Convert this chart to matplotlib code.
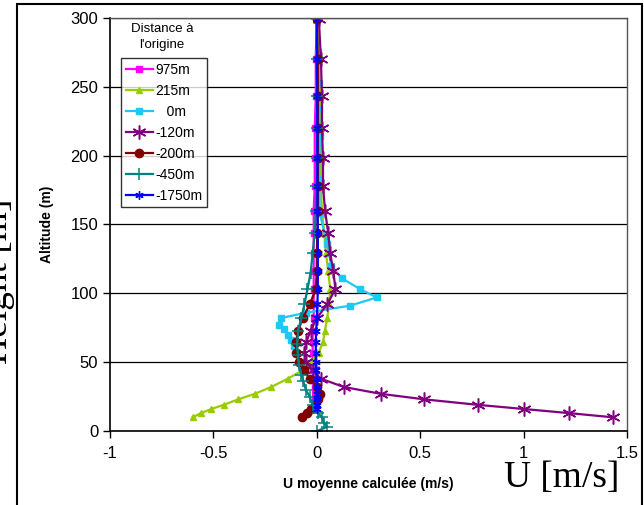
import matplotlib
matplotlib.use("Agg")
import matplotlib.pyplot as plt
from matplotlib.patches import Rectangle

# --- data ---
alt = [10, 13, 16, 19, 23, 27, 32, 38, 44, 50, 57, 65, 73, 82, 92, 103,
       116, 129, 144, 160, 178, 198, 220, 243, 270, 299]

u_975 = [-0.01, -0.01, -0.01, -0.01, -0.01, -0.015, -0.02, -0.02, -0.02,
         -0.02, -0.02, -0.015, -0.015, -0.015, -0.015, -0.015, -0.015,
         -0.015, -0.01, -0.01, -0.01, -0.005, -0.005, 0.0]
alt_975 = alt[2:]

u_215 = [-0.60, -0.56, -0.51, -0.45, -0.38, -0.30, -0.22, -0.14, -0.07, -0.03,
         0.01, 0.03, 0.04, 0.05, 0.06, 0.065, 0.055, 0.045, 0.035, 0.025,
         0.02, 0.02, 0.02, 0.015, 0.01, 0.0]

alt_0 = [62, 66, 70, 74, 77, 82, 86, 91, 97, 103, 111, 120, 136, 158, 183,
         214, 234, 253, 275, 299]
u_0 = [-0.11, -0.125, -0.14, -0.16, -0.185, -0.175, -0.05, 0.16, 0.29, 0.21,
       0.12, 0.07, 0.05, 0.015, 0.01, 0.015, 0.01, 0.01, 0.005, 0.0]

u_m120 = [1.43, 1.22, 1.00, 0.78, 0.52, 0.31, 0.13, 0.02, -0.02, -0.05,
          -0.06, -0.05, -0.03, 0.0, 0.05, 0.09, 0.08, 0.065, 0.055, 0.04,
          0.03, 0.03, 0.025, 0.025, 0.02, 0.01]

u_m200 = [-0.07, -0.045, -0.03, -0.01, 0.005, 0.015, 0.0, -0.035, -0.063,
          -0.087, -0.1, -0.1, -0.09, -0.068, -0.034, -0.005, 0.0, 0.0, 0.003,
          0.005, 0.005, 0.005, 0.005, 0.005, 0.005, 0.0]

alt_m450 = [0, 3, 6, 10, 13, 19, 25, 30, 36, 41, 48, 55, 63, 73, 82, 92, 103,
            115, 129, 144, 160, 178, 198, 220, 243, 270, 299]
u_m450 = [0.0, 0.05, 0.035, 0.025, 0.005, -0.02, -0.035, -0.053, -0.065,
          -0.075, -0.087, -0.092, -0.095, -0.09, -0.075, -0.06, -0.045, -0.03,
          -0.02, -0.01, -0.005, -0.003, 0.0, 0.0, 0.0, 0.0, 0.0]

u_m1750 = [0.003, 0.003, 0.003, 0.003, 0.003, 0.0, -0.003, -0.005, -0.005,
           -0.005, -0.003, 0.0, 0.003, 0.005, 0.005, 0.005, 0.005, 0.003,
           0.003, 0.003, 0.003, 0.002, 0.0, 0.0]
alt_m1750 = alt[2:]

labels = ["975m", "215m", "   0m", "-120m", "-200m", "-450m", "-1750m"]
xticks = [-1, -0.5, 0, 0.5, 1, 1.5]
yticks = [0, 50, 100, 150, 200, 250, 300]

plt.rcParams["font.family"] = ["Liberation Sans", "DejaVu Sans"]

fig = plt.figure(figsize=(6.44, 5.05), dpi=100)
ax = fig.add_axes([0.1708, 0.1465, 0.8028, 0.8179])

star = (6, 2, 0)
ax.plot(u_975, alt_975, color="#FF00FF", lw=1.6, marker="s", ms=4, label=labels[0])
ax.plot(u_215, alt, color="#99CC00", lw=1.6, marker="^", ms=5, label=labels[1])
ax.plot(u_0, alt_0, color="#1EC8F5", lw=1.6, marker="s", ms=5, label=labels[2])
ax.plot(u_m120, alt, color="#800080", lw=1.6, marker=star, ms=10, mew=1.1,
        label=labels[3])
ax.plot(u_m200, alt, color="#800000", lw=1.6, marker="o", ms=6, label=labels[4])
ax.plot(u_m450, alt_m450, color="#008080", lw=1.6, marker="+", ms=8, mew=1.1,
        label=labels[5])
ax.plot(u_m1750, alt_m1750, color="#0000FF", lw=1.6, marker=star, ms=6, mew=1,
        label=labels[6])

ax.set_xlim(-1, 1.5)
ax.set_ylim(0, 300)
ax.set_xticks(xticks)
ax.set_xticklabels(["-1", "-0.5", "0", "0.5", "1", "1.5"])
ax.set_yticks(yticks)
ax.tick_params(labelsize=12, length=5, width=1, direction="out")
ax.tick_params(axis="x", pad=6)
ax.yaxis.grid(True, color="black", lw=0.9)
ax.set_axisbelow(True)
for s in ["left", "bottom"]:
    ax.spines[s].set_color("black")
    ax.spines[s].set_linewidth(1.2)
for s in ["right", "top"]:
    ax.spines[s].set_color("#555555")
    ax.spines[s].set_linewidth(1.0)

ax.set_xlabel("U moyenne calculée (m/s)", fontsize=10, fontweight="bold", labelpad=11)
ax.set_ylabel("Altitude (m)", fontsize=10, fontweight="bold", labelpad=12)

leg = ax.legend(loc="upper left", bbox_to_anchor=(0.021, 0.903), fontsize=10,
                frameon=True, fancybox=False, edgecolor="black",
                handlelength=1.95, handletextpad=0.15, borderpad=0.35,
                labelspacing=0.5, borderaxespad=0)
leg.get_frame().set_linewidth(1.0)

fig.text(162 / 644, 1 - 37 / 505, "Distance à\nl'origine", fontsize=9.5,
         ha="center", va="center", linespacing=1.55)

# big annotations and outer frame
fig.text(562 / 644, 1 - 478 / 505, "U [m/s]", fontsize=27,
         family="Liberation Serif", ha="center", va="center")
fig.text(15 / 644, 1 - 281 / 505, "Height [m]", fontsize=27,
         family="Liberation Serif", rotation=90, ha="right", va="center")
fig.patches.append(Rectangle((17 / 644, -0.05), (642 - 17) / 644, 1.05 - 4 / 505,
                             transform=fig.transFigure, fill=False,
                             edgecolor="black", lw=1.5))

fig.savefig("out.png", dpi=100)
